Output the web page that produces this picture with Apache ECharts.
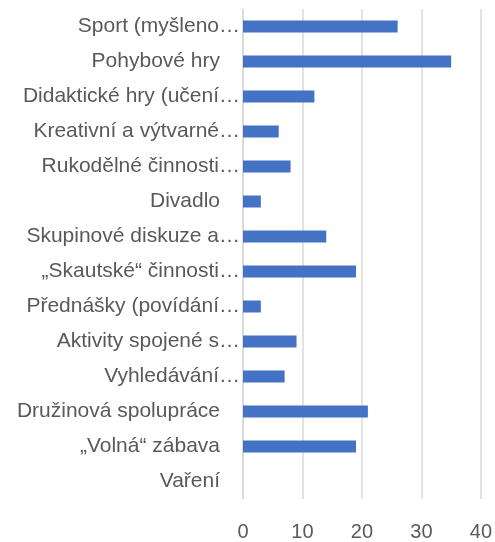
<!DOCTYPE html>
<html>
<head>
    <meta charset="utf-8">
    <title>Aktivity</title>
    <script src="https://cdn.jsdelivr.net/npm/echarts@6/dist/echarts.min.js"></script>
    <style>
        html, body { margin: 0; padding: 0; background: #fff; }
        #bar { width: 495px; height: 542px; }
    </style>
</head>
<body>
    <div id="bar"></div>
    <script>
        // popisky tak, jak jsou v grafu (zkrácené)
        var categories = [
            'Sport (myšleno…', 'Pohybové hry', 'Didaktické hry (učení…',
            'Kreativní a výtvarné…', 'Rukodělné činnosti…', 'Divadlo',
            'Skupinové diskuze a…', '„Skautské“ činnosti…', 'Přednášky (povídání…',
            'Aktivity spojené s…', 'Vyhledávání…', 'Družinová spolupráce',
            '„Volná“ zábava', 'Vaření'
        ];
        var values = [26, 35, 12, 6, 8, 3, 14, 19, 3, 9, 7, 21, 19, 0];
        var xTicks = [0, 10, 20, 30, 40];

        var myChart = echarts.init(document.getElementById('bar'));
        var option = {
            animation: false,
            textStyle: { fontFamily: 'Liberation Sans' },
            grid: { left: 243, right: 14, top: 9, bottom: 43 },
            xAxis: {
                type: 'value',
                min: xTicks[0],
                max: xTicks[xTicks.length - 1],
                interval: 10,
                axisLine: { show: false },
                axisTick: { show: false },
                axisLabel: { color: '#595959', fontSize: 20, margin: 23 },
                splitLine: { lineStyle: { color: '#d9d9d9', width: 1.5 } }
            },
            yAxis: {
                type: 'category',
                inverse: true,
                data: categories,
                axisLine: { lineStyle: { color: '#d9d9d9', width: 1.5 } },
                axisTick: { show: false },
                axisLabel: {
                    margin: 3,
                    formatter: function (v) {
                        return v.slice(-1) === '…' ? '{e|' + v + '}' : '{n|' + v + '}';
                    },
                    rich: {
                        e: { color: '#595959', fontSize: 21 },
                        n: { color: '#595959', fontSize: 21, padding: [0, 20, 0, 0] }
                    }
                }
            },
            series: [{
                type: 'bar',
                data: values,
                barWidth: 12,
                itemStyle: { color: '#4472C4' }
            }]
        };
        myChart.setOption(option);
    </script>
</body>
</html>
